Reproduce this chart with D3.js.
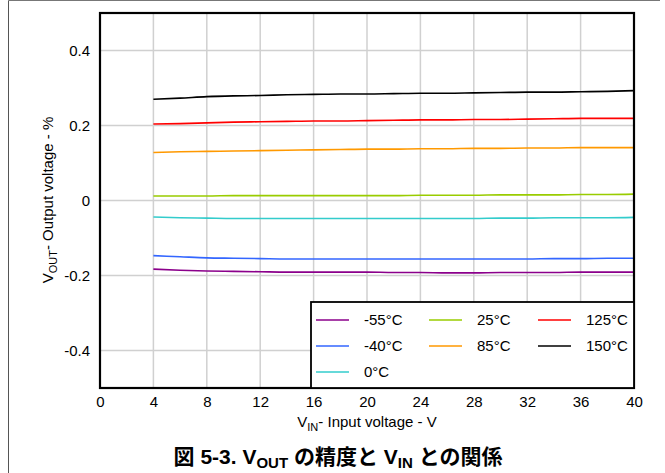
<!DOCTYPE html>
<html><head><meta charset="utf-8">
<script src="https://cdn.jsdelivr.net/npm/d3@7"></script>
<style>
body{margin:0;background:#fff;}
svg{display:block;font-family:Arial,"Liberation Sans",sans-serif;}
</style></head>
<body><svg id="c" width="665" height="473"></svg>
<script>
const vin = [4,6,8,10,12,14,16,18,20,22,24,26,28,30,32,34,36,38,40];
const s_m55 = [-0.183,-0.186,-0.188,-0.189,-0.190,-0.191,-0.191,-0.191,-0.191,-0.192,-0.192,-0.193,-0.193,-0.192,-0.192,-0.192,-0.191,-0.191,-0.191];
const s_m40 = [-0.147,-0.150,-0.153,-0.154,-0.155,-0.156,-0.156,-0.156,-0.156,-0.156,-0.156,-0.156,-0.156,-0.156,-0.156,-0.155,-0.155,-0.154,-0.154];
const s_0   = [-0.044,-0.046,-0.047,-0.048,-0.048,-0.048,-0.048,-0.048,-0.048,-0.048,-0.048,-0.048,-0.048,-0.047,-0.047,-0.046,-0.046,-0.046,-0.045];
const s_25  = [0.012,0.012,0.012,0.013,0.013,0.013,0.013,0.013,0.013,0.013,0.014,0.014,0.014,0.015,0.015,0.015,0.016,0.016,0.017];
const s_85  = [0.128,0.130,0.131,0.132,0.133,0.134,0.135,0.136,0.137,0.137,0.138,0.138,0.139,0.139,0.140,0.140,0.141,0.141,0.141];
const s_125 = [0.204,0.205,0.207,0.209,0.210,0.211,0.212,0.212,0.213,0.214,0.215,0.215,0.216,0.216,0.217,0.218,0.219,0.219,0.219];
const s_150 = [0.270,0.273,0.277,0.279,0.280,0.282,0.283,0.284,0.284,0.285,0.286,0.286,0.287,0.288,0.289,0.289,0.290,0.291,0.293];
const seriesNames = ["-55°C","-40°C","0°C","25°C","85°C","125°C","150°C"];
const seriesColors = ["#8B008B","#3366FF","#33CCCC","#99CC00","#FF9900","#FF0000","#000000"];
const seriesValues = [s_m55,s_m40,s_0,s_25,s_85,s_125,s_150];
const xTicks = [0,4,8,12,16,20,24,28,32,36,40];
const yTicks = [-0.4,-0.2,0,0.2,0.4];
const yTickLabels = ["-0.4","-0.2","0","0.2","0.4"];

const svg = d3.select("#c");
const L=100,R=634,T=13,B=388;
const FS=15;
const x = d3.scaleLinear().domain([0,40]).range([L,R]);
const y = d3.scaleLinear().domain([-0.5,0.5]).range([B,T]);

// figure frame
svg.append("line").attr("x1",8.5).attr("x2",8.5).attr("y1",0.5).attr("y2",473).attr("stroke","#555").attr("stroke-width",1);
svg.append("line").attr("x1",8.5).attr("x2",660).attr("y1",0.5).attr("y2",0.5).attr("stroke","#777").attr("stroke-width",1);

// grid
svg.append("g").selectAll("line").data(xTicks.slice(1,-1)).join("line")
  .attr("x1",d=>x(d)).attr("x2",d=>x(d)).attr("y1",T).attr("y2",B)
  .attr("stroke","#d0d0d0").attr("stroke-width",1.5);
svg.append("g").selectAll("line").data(yTicks).join("line")
  .attr("x1",L).attr("x2",R).attr("y1",d=>y(d)).attr("y2",d=>y(d))
  .attr("stroke","#d0d0d0").attr("stroke-width",1.5);

// axes labels via d3 axes
const xa = svg.append("g").attr("transform",`translate(0,${B})`)
  .call(d3.axisBottom(x).tickValues(xTicks).tickSize(0).tickPadding(8).tickFormat(d3.format("d")));
xa.select(".domain").remove();
xa.selectAll("text").attr("font-size",FS).attr("font-family","Arial,'Liberation Sans',sans-serif").attr("fill","#000");
const ya = svg.append("g").attr("transform",`translate(${L},0)`)
  .call(d3.axisLeft(y).tickValues(yTicks).tickSize(0).tickPadding(10).tickFormat((d,i)=>yTickLabels[i]));
ya.select(".domain").remove();
ya.selectAll("text").attr("font-size",FS).attr("font-family","Arial,'Liberation Sans',sans-serif").attr("fill","#000");

// lines
const line = d3.line().x((d,i)=>x(vin[i])).y(d=>y(d)).curve(d3.curveMonotoneX);
svg.append("g").selectAll("path").data(seriesValues).join("path")
  .attr("d",d=>line(d)).attr("fill","none")
  .attr("stroke",(d,i)=>seriesColors[i]).attr("stroke-width",1.6);

// plot border
svg.append("rect").attr("x",L).attr("y",T).attr("width",R-L).attr("height",B-T)
  .attr("fill","none").attr("stroke","#000").attr("stroke-width",2.2);

// legend
const lg = svg.append("g");
lg.append("rect").attr("x",311).attr("y",302).attr("width",R-311).attr("height",B-302)
  .attr("fill","#fff").attr("stroke","#000").attr("stroke-width",1.8);
const colX=[316,429,538], rowY=[320,346,372];
const pos = [[0,0],[0,1],[0,2],[1,0],[1,1],[2,0],[2,1]];
seriesNames.forEach((n,i)=>{
  const [c,r]=pos[i];
  lg.append("line").attr("x1",colX[c]).attr("x2",colX[c]+33).attr("y1",rowY[r]).attr("y2",rowY[r])
    .attr("stroke",seriesColors[i]).attr("stroke-width",1.6);
  lg.append("text").attr("x",colX[c]+48).attr("y",rowY[r]+5).attr("font-size",FS).text(n);
});

// axis titles
const xt = svg.append("text").attr("x",367).attr("y",427).attr("text-anchor","middle").attr("font-size",FS);
xt.append("tspan").text("V");
xt.append("tspan").attr("font-size",11).attr("dy",4).text("IN");
xt.append("tspan").attr("dy",-4).text("- Input voltage - V");

const yt = svg.append("text").attr("transform","translate(53,200) rotate(-90)").attr("text-anchor","middle").attr("font-size",FS);
yt.append("tspan").text("V");
yt.append("tspan").attr("font-size",11).attr("dy",4).text("OUT");
yt.append("tspan").attr("dy",-4).text("- Output voltage - %");

// title
const tt = svg.append("text").attr("x",338).attr("y",464).attr("text-anchor","middle")
  .attr("font-size",21).attr("font-weight","bold").attr("font-family","Arial,'Noto Sans CJK JP',sans-serif");
tt.append("tspan").text("図 5-3. V");
tt.append("tspan").attr("font-size",15).attr("dy",4).text("OUT");
tt.append("tspan").attr("dy",-4).text(" の精度と V");
tt.append("tspan").attr("font-size",15).attr("dy",4).text("IN");
tt.append("tspan").attr("dy",-4).text(" との関係");
</script></body></html>
